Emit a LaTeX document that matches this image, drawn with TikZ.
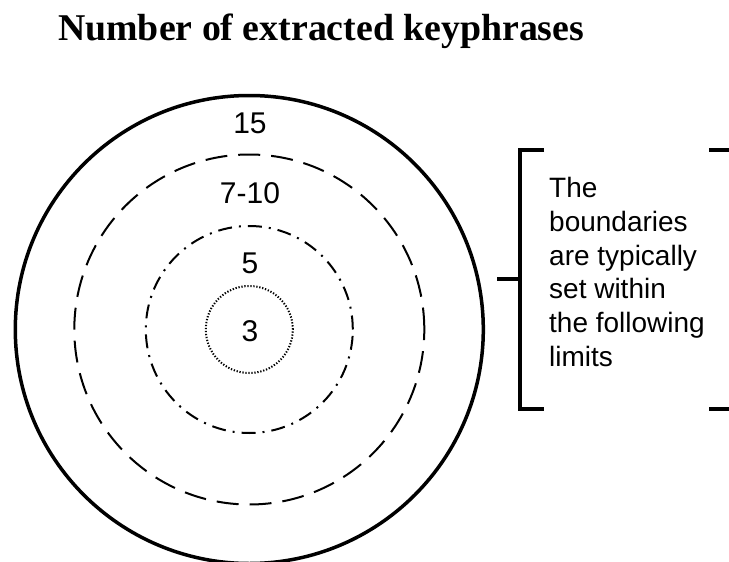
\documentclass[tikz,border=0pt]{standalone}
\usepackage{fontspec}
\usetikzlibrary{calc}
\setmainfont{Liberation Sans}
\newfontfamily\titlefont{Liberation Serif}
\begin{document}
\begin{tikzpicture}[x=1pt,y=-1pt,
  ringlabel/.style={font=\fontsize{30}{36}\selectfont, anchor=base, inner sep=0pt},
  outerring/.style={line width=3.5pt},
  dashring/.style={line width=2pt, dash pattern=on 22pt off 11pt},
  dashdotring/.style={line width=2pt, dash pattern=on 14pt off 7pt on 2pt off 7pt},
  dotring/.style={line width=2pt, dash pattern=on 1.3pt off 1.7pt},
  bracketline/.style={line width=4pt},
]
\useasboundingbox (0,0) rectangle (729,562);

% title
\node[anchor=base west, inner sep=0pt, font=\titlefont\bfseries\fontsize{37.8}{44}\selectfont]
  (title) at (58,41) {Number of extracted keyphrases};

% concentric rings
\coordinate (c) at (249.3,329.5);
\draw[outerring] (c) circle[radius=234pt];
\draw[dashring] (c) circle[radius=175pt];
\draw[dashdotring] (c) circle[radius=103.5pt];
\draw[dotring] (c) circle[radius=43.5pt];

% ring labels
\node[ringlabel] (n15) at (250,133.5) {15};
\node[ringlabel] (n710) at (250,203) {7-10};
\node[ringlabel] (n5) at (250,273) {5};
\node[ringlabel] (n3) at (250,341.5) {3};

% bracket with note
\coordinate (bt) at (520,149.5);
\coordinate (bb) at (520,409);
\coordinate (bm) at (520,279);
\draw[bracketline] ($(bt)+(24,0)$) -- (bt) -- (bb) -- ++(24,0);
\draw[bracketline] (497,279) -- (bm);
\draw[bracketline] (709,149.5) -- (729,149.5);
\draw[bracketline] (709,409) -- (729,409);

% multi-line node: its base anchor sits on the last line
\node[anchor=base west, inner sep=0pt, align=left, font=\fontsize{28}{33.9}\selectfont]
  (note) at (549,366.7) {The\\boundaries\\are typically\\set within\\the following\\limits};
\end{tikzpicture}
\end{document}
